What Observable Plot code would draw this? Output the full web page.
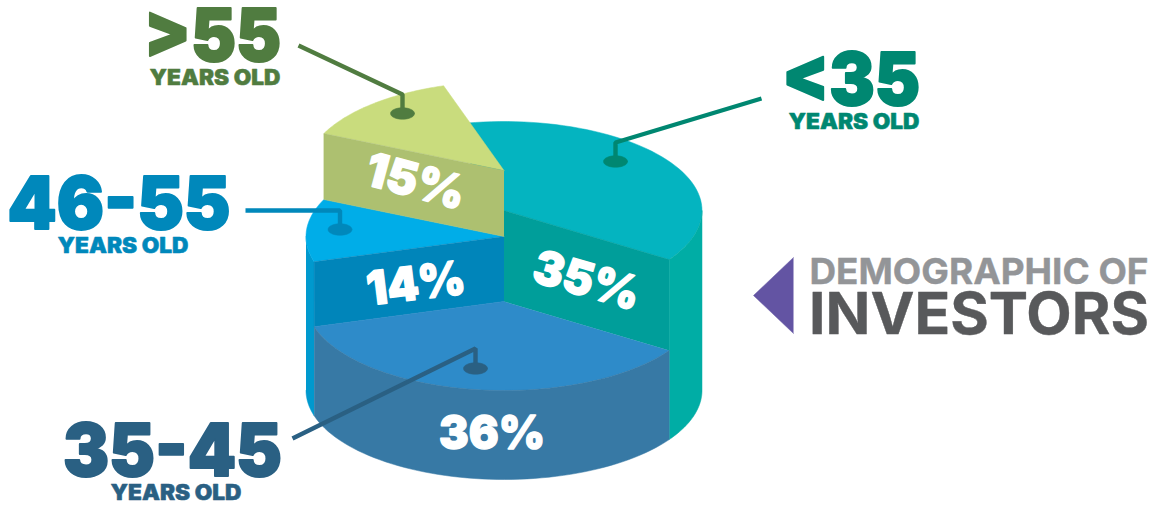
<!DOCTYPE html>
<html>
<head>
<meta charset="utf-8">
<style>html,body{margin:0;padding:0;background:#fff}svg{display:block}</style>
<script src="https://cdn.jsdelivr.net/npm/d3@7"></script>
<script src="https://cdn.jsdelivr.net/npm/@observablehq/plot@0.6"></script>
</head>
<body>
<div id="chart"></div>
<script>
// Investor age groups, counter-clockwise from the front-right of the pie.
const ageGroups = ["<35", ">55", "46-55", "35-45"];
const shares = [35, 15, 14, 36];

const topColors = ["#04B4C0", "#C9DC7D", "#00ADE8", "#2E8BC9"];
const faceColors = ["#009E9A", "#ADC070", "#0085BA", null];
const wallColors = ["#00ADA5", null, "#0099CE", "#3779A5"];
const inkColors = ["#008771", "#507C40", "#0088BB", "#2A6083"];

// Cylinder projection and the raised top of each slice.
const cx = 503.5, rx = 198, ry = 89, baseY = 390;
const topY = [210, 170, 236, 301];
const startDeg = -29;
const rad = d => d * Math.PI / 180;
// Perspective skew of the rim: angles stay proportional to the shares before it applies.
const skew = d => d + 11 * Math.sin(rad(d + 5));
const rim = (deg, cy) => ({x: cx + rx * Math.cos(rad(deg)), y: cy - ry * Math.sin(rad(deg))});
const arc = (a, b, cy) => d3.range(0, 61).map(i => rim(a + (b - a) * i / 60, cy));

let cum = startDeg;
const slices = ageGroups.map((name, i) => {
  const a0 = cum, a1 = cum + shares[i] * 3.6;
  cum = a1;
  return {name, i, from: skew(a0), to: skew(a1), cy: topY[i]};
});
const [young, old, mid, core] = slices;

const topFace = s => [{x: cx, y: s.cy}, ...arc(s.from, s.to, s.cy)];
const wall = (a, b, cy) => [...arc(a, b, cy), ...arc(b, a, baseY)];
const cutFace = (deg, cy, lowY) => {
  const p = rim(deg, cy);
  return [{x: cx, y: cy}, p, {x: p.x, y: p.y + lowY - cy}, {x: cx, y: lowY}];
};
const poly = (pts, color) => Plot.line(pts, {x: "x", y: "y", fill: color, stroke: color, strokeWidth: 0.5});

// Leaders run from beside each caption to a pin on its slice.
const leaderPaths = {
  "<35": [[761, 98], [615, 142], [615, 161]],
  ">55": [[298, 45], [402, 94], [402, 113]],
  "46-55": [[245, 210], [339.5, 210], [339.5, 229]],
  "35-45": [[292, 438], [475, 348], [475, 368]]
};
const pin = ([x, y]) => d3.range(0, 41).map(i => ({
  x: x + 12 * Math.cos(i / 40 * 2 * Math.PI),
  y: y + 5.8 * Math.sin(i / 40 * 2 * Math.PI)
}));
const leader = (name, color) => {
  const pts = leaderPaths[name];
  return [
    Plot.line(pts.map(([x, y]) => ({x, y})), {x: "x", y: "y", stroke: color, strokeWidth: 4.4, strokeLinejoin: "miter", strokeLinecap: "butt"}),
    poly(pin(pts[pts.length - 1]), color)
  ];
};

const captionPos = {
  "<35": [850.5, 104.5, 138],
  ">55": [212, 60, 137],
  "46-55": [118.5, 228.5, 223],
  "35-45": [172, 475.5, 219]
};
const subPos = {
  "<35": [853.5, 128.5],
  ">55": [214.5, 84],
  "46-55": [122.5, 252],
  "35-45": [175.5, 499.5]
};
const pctPos = [[586, 281, 16, 109], [415, 182, 15, 101], [415.5, 284, -7, 99], [491.5, 433, 0, 106]];

const widths = new Map();
const heavy = {fontFamily: "Inter, 'Noto Sans', sans-serif", fontWeight: 900, lineAnchor: "bottom"};
const label = (text, x, y, size, color, w, extra = {}) => {
  widths.set(text, w);
  return Plot.text([text], {...heavy, x: () => x, y: () => y, text: d => d, fontSize: size, fill: color, stroke: color, strokeWidth: extra.bold ?? 0, ...extra});
};

const marks = [
  // Back to front so nearer surfaces cover farther ones.
  poly(topFace(young), topColors[0]),
  poly(wall(young.from, 0, topY[0]), wallColors[0]),
  poly(cutFace(young.from, topY[0], topY[3]), faceColors[0]),
  poly(wall(180, mid.to, topY[2]), wallColors[2]),
  poly(topFace(mid), topColors[2]),
  poly(cutFace(mid.to, topY[2], topY[3]), faceColors[2]),
  poly(topFace(core), topColors[3]),
  poly(wall(core.from, core.to, topY[3]), wallColors[3]),
  poly(topFace(old), topColors[1]),
  poly(cutFace(old.to, topY[1], topY[2]), faceColors[1]),
  // Pointer triangle beside the heading.
  poly([{x: 793, y: 257}, {x: 753, y: 295}, {x: 793, y: 333}], "#6354A3"),
  ...ageGroups.flatMap((name, i) => leader(name, inkColors[i])),
  ...ageGroups.flatMap((name, i) => [
    label(name, captionPos[name][0], captionPos[name][1], 73, inkColors[i], captionPos[name][2], {bold: 2}),
    label("YEARS OLD", subPos[name][0], subPos[name][1], 21, inkColors[i], 131, {bold: 0.5})
  ]),
  ...shares.map((v, i) => label(`${v}%`, pctPos[i][0], pctPos[i][1], 47, "#fff", pctPos[i][3], {rotate: pctPos[i][2], lineAnchor: "middle", bold: 1.4})),
  label("DEMOGRAPHIC OF", 978.5, 283, 36, "#939598", 339, {fontWeight: 700, bold: 0.4}),
  label("INVESTORS", 978.5, 333, 58, "#58595B", 340, {fontWeight: 700, bold: 0.4})
];

const svg = Plot.plot({
  width: 1153, height: 510, margin: 0,
  x: {domain: [0, 1153], range: [0, 1153], axis: null},
  y: {domain: [0, 510], range: [0, 510], axis: null},
  style: {background: "#fff"},
  marks
});

// Fit each heavy caption to its measured width.
d3.select(svg).selectAll("text").each(function () {
  const w = widths.get(this.textContent);
  if (w) {
    this.setAttribute("textLength", w);
    this.setAttribute("lengthAdjust", "spacingAndGlyphs");
  }
});
document.getElementById("chart").append(svg);
</script>
</body>
</html>
